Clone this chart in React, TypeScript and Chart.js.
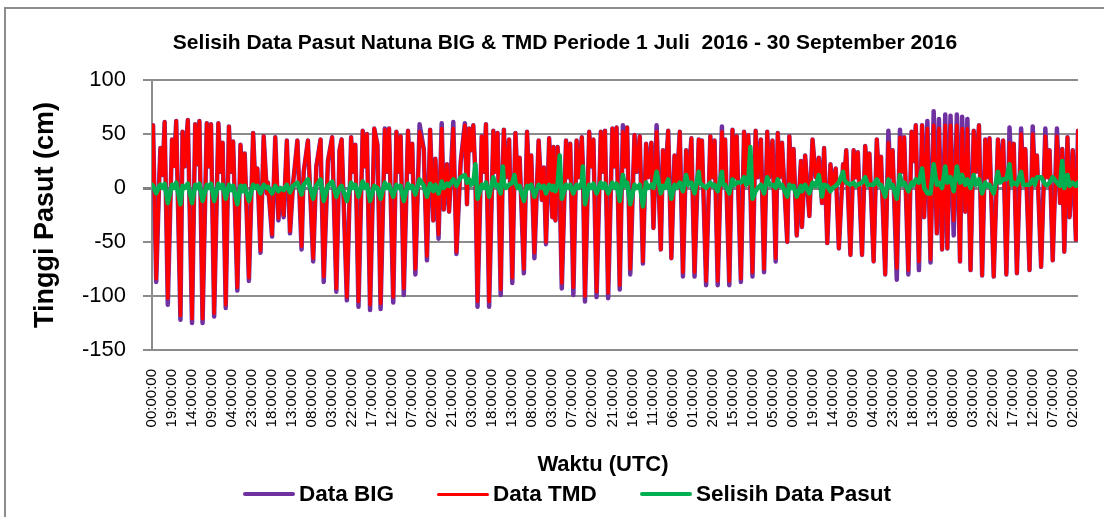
import React, { useEffect, useRef } from "react";
import { Chart, registerables } from "chart.js";

Chart.register(...registerables);

const FONT = "'Liberation Sans', Arial, Helvetica, sans-serif";

const chartTitle = "Selisih Data Pasut Natuna BIG & TMD Periode 1 Juli  2016 - 30 September 2016";
const yAxisTitle = "Tinggi Pasut (cm)";
const xAxisTitle = "Waktu (UTC)";
const seriesNames = ["Data BIG", "Data TMD", "Selisih Data Pasut"];
const seriesColors = ["#7030A0", "#FF0000", "#00B050"];

const xTickLabels = [
  "00:00:00", "19:00:00", "14:00:00", "09:00:00", "04:00:00", "23:00:00", "18:00:00", "13:00:00",
  "08:00:00", "03:00:00", "22:00:00", "17:00:00", "12:00:00", "07:00:00", "02:00:00", "21:00:00",
  "03:00:00", "18:00:00", "13:00:00", "08:00:00", "03:00:00", "07:00:00", "02:00:00", "21:00:00",
  "16:00:00", "11:00:00", "06:00:00", "01:00:00", "20:00:00", "15:00:00", "10:00:00", "05:00:00",
  "00:00:00", "19:00:00", "14:00:00", "09:00:00", "04:00:00", "23:00:00", "18:00:00", "13:00:00",
  "08:00:00", "03:00:00", "22:00:00", "17:00:00", "12:00:00", "07:00:00", "02:00:00",
];
const xTickStep = 19;
const hourCount = 880;

const yMin = -150;
const yMax = 100;
const yStep = 50;

// hour index (row of the hourly series) of each turning point
const hours = [
  0, 1, 4, 7, 8, 10, 12, 15, 19, 21,
  23, 27, 29, 31, 34, 38, 41, 43, 45, 48,
  52, 54, 56, 59, 63, 65, 67, 70, 73, 75,
  77, 81, 84, 86, 88, 92, 96, 98, 100, 103,
  106, 109, 110, 114, 117, 120, 122, 125, 128, 131,
  134, 138, 142, 144, 148, 153, 156, 160, 163, 167,
  171, 175, 178, 180, 185, 189, 191, 193, 196, 200,
  202, 204, 207, 211, 214, 217, 221, 223, 225, 229,
  232, 234, 236, 239, 243, 245, 247, 250, 254, 258,
  259, 261, 264, 267, 269, 272, 275, 277, 280, 282,
  286, 289, 293, 297, 299, 301, 303, 305, 307, 309,
  313, 315, 317, 320, 324, 326, 328, 331, 333, 334,
  336, 339, 342, 344, 345, 347, 349, 353, 356, 358,
  360, 363, 367, 370, 372, 374, 377, 380, 381, 383,
  385, 387, 389, 393, 395, 397, 400, 403, 405, 408,
  409, 411, 415, 417, 419, 422, 426, 428, 430, 433,
  437, 439, 441, 444, 447, 449, 451, 454, 458, 460,
  463, 466, 469, 471, 474, 476, 479, 483, 485, 487,
  490, 493, 496, 498, 501, 504, 507, 509, 512, 515,
  519, 520, 522, 526, 530, 532, 534, 537, 541, 542,
  544, 548, 551, 553, 555, 559, 562, 564, 566, 568,
  570, 573, 575, 578, 581, 584, 586, 589, 592, 594,
  596, 598, 603, 605, 607, 609, 612, 616, 617, 620,
  624, 627, 630, 633, 636, 638, 641, 644, 646, 649,
  652, 656, 657, 659, 663, 666, 668, 670, 674, 677,
  679, 681, 685, 688, 690, 692, 696, 699, 701, 703,
  707, 710, 712, 714, 718, 721, 723, 725, 728, 731,
  733, 736, 739, 742, 745, 747, 750, 753, 755, 758,
  761, 764, 767, 769, 772, 774, 777, 780, 782, 785,
  788, 791, 793, 795, 799, 803, 805, 808, 811, 814,
  816, 818, 821, 825, 827, 829, 833, 836, 838, 840,
  844, 848, 850, 852, 855, 859, 862, 864, 866, 869,
  871, 874, 877, 879,
];

const dataBIG = [
  5, 58, -87, 12, 37, 12, 61, -108, 45, 22,
  62, -122, 52, 20, 63, -125, 59, 22, 62, -125,
  60, 20, 59, -119, 60, 15, 42, -111, 57, 15,
  43, -95, 40, 5, 32, -86, 51, 5, 18, -60,
  48, -5, 5, -45, 47, -30, 0, -27, 44, -42,
  5, 44, -57, 15, 44, -68, 20, 45, -87, 25,
  47, -96, 35, 45, -104, 47, 15, 40, -110, 53,
  20, 50, -113, 55, 40, -112, 55, 15, 55, -106,
  52, 15, 48, -99, 53, 15, 41, -80, 59, 36,
  0, -67, 54, -30, 27, -47, 60, -20, 22, -22,
  61, -61, 24, 60, -15, 55, 35, 58, 10, -110,
  48, 15, 59, -110, 53, 15, 51, -99, 20, 54,
  10, 45, -88, 10, 51, 5, 28, -79, 52, 5,
  30, -65, 44, -11, 19, -52, 46, -27, 38, -30,
  38, 0, -93, 44, 10, 41, -99, 44, 10, 47,
  20, -105, 52, 20, 45, -101, 52, 15, 53, -102,
  55, 20, 56, -94, 58, 20, 56, -80, 49, 15,
  48, -70, 41, 10, 42, -37, 58, -57, 35, 5,
  53, -65, 30, 0, 52, -82, 35, 5, 46, -82,
  45, 10, 44, -90, 48, 10, 44, -90, 57, 10,
  45, -90, 54, 10, 48, -87, 52, 10, 49, 0,
  -82, 53, 10, 45, -78, 52, 10, 44, -68, 51,
  10, 42, -50, 48, 5, 36, -44, 25, -36, 30,
  -26, 45, 10, 28, -14, 37, -51, 22, 0, 18,
  -56, 22, 5, 35, -62, 35, 10, 33, -62, 39,
  10, 32, -68, 45, 10, 29, -80, 53, 10, 35,
  -85, 54, 15, 47, -80, 52, 25, 58, -76, 58,
  -27, 62, -69, 71, -42, 64, -57, 68, -56, 67,
  -44, 68, -68, 66, -22, 64, -76, 53, 15, 58,
  -81, 45, 10, 46, -82, 45, 10, 44, -80, 56,
  10, 41, -79, 55, 10, 36, -76, 57, 10, 30,
  -73, 55, 10, 35, -67, 55, -14, 36, -59, 47,
  -27, 35, -48, 53,
];

const dataTMD = [
  5, 58, -84, 10, 37, 12, 61, -102, 45, 20,
  62, -118, 52, 20, 63, -121, 59, 22, 62, -121,
  60, 20, 59, -116, 60, 15, 42, -108, 57, 15,
  43, -92, 40, 5, 32, -83, 51, 5, 18, -58,
  48, -5, 5, -43, 47, -28, 0, -25, 44, -40,
  5, 44, -54, 15, 44, -65, 20, 45, -82, 25,
  47, -93, 35, 45, -101, 47, 15, 40, -105, 53,
  20, 50, -108, 55, 40, -107, 54, 15, 55, -101,
  52, 15, 48, -93, 53, 15, 41, -75, 52, 36,
  0, -63, 54, -30, 27, -43, 55, -20, 22, -22,
  55, -59, 24, 58, -15, 55, 35, 58, 10, -105,
  48, 15, 59, -105, 53, 15, 51, -94, 20, 54,
  10, 45, -83, 10, 51, 5, 28, -75, 52, 5,
  30, -60, 44, -11, 19, -50, 46, -27, 38, -30,
  38, 0, -88, 44, 10, 41, -92, 44, 10, 47,
  20, -100, 52, 20, 45, -96, 52, 15, 53, -97,
  55, 20, 56, -90, 52, 20, 56, -75, 49, 15,
  48, -68, 41, 10, 42, -37, 52, -57, 35, 5,
  53, -65, 30, 0, 52, -78, 35, 5, 46, -78,
  45, 10, 44, -86, 48, 10, 44, -86, 52, 10,
  45, -86, 54, 10, 48, -84, 52, 10, 49, 0,
  -78, 53, 10, 45, -75, 52, 10, 44, -65, 51,
  10, 42, -50, 48, 5, 36, -44, 25, -36, 30,
  -26, 45, 10, 28, -14, 37, -51, 22, 0, 18,
  -56, 22, 5, 35, -62, 35, 10, 33, -62, 39,
  10, 32, -68, 45, 10, 29, -80, 42, 10, 35,
  -74, 47, 15, 47, -76, 52, 25, 58, -68, 58,
  -27, 55, -66, 58, -42, 55, -57, 58, -56, 58,
  -30, 58, -68, 55, -22, 55, -76, 53, 15, 58,
  -81, 45, 10, 46, -82, 45, 10, 44, -80, 42,
  10, 41, -79, 50, 10, 36, -76, 50, 10, 30,
  -73, 48, 10, 35, -67, 48, -14, 36, -59, 47,
  -27, 35, -48, 53,
];

const selisih = [
  3, 2, -5, 2, 3, 0, 4, -14, 3, 0,
  5, -15, 2, 0, 4, -14, 3, 0, 4, -12,
  3, 0, 4, -12, 4, 0, 3, -10, 3, -2,
  2, -15, 2, -3, 2, -12, 3, 0, 2, -5,
  3, 0, 1, -5, 2, -3, 0, -2, 3, -4,
  2, 5, -6, 3, 8, -10, 2, 8, -12, 2,
  6, -8, 0, 2, -12, 5, 0, 3, -8, 6,
  0, 3, -12, 2, 0, -10, 5, 0, 3, -8,
  3, 0, 2, -12, 4, 0, 2, -6, 8, 2,
  -2, -8, 4, -3, 3, -5, 6, 0, 4, 2,
  8, 2, 10, 12, 5, 8, 3, 5, 22, -10,
  3, 0, 5, -8, 10, 2, 3, -5, 20, 5,
  0, 3, 5, 12, 5, 0, 2, -12, 2, 0,
  3, -8, 3, 0, 2, -5, 3, -2, 2, -3,
  3, 30, -10, 3, 0, 3, -5, 3, 0, 5,
  20, -15, 3, 0, 4, -5, 5, 0, 4, -5,
  5, 0, 4, -12, 12, 2, 5, -15, 3, 0,
  3, -17, 5, 0, 3, 0, 15, -5, 2, 0,
  8, -10, 3, 0, 5, -3, 12, 3, 5, -5,
  15, 5, 3, 0, 5, 2, 3, -3, 15, 3,
  3, -5, 8, 3, 5, 5, 10, 3, 5, 38,
  -10, -3, 0, 3, -5, 10, 3, 3, 0, 8,
  2, 3, -8, 3, 0, 2, -8, 2, -3, 3,
  -5, 5, 2, 12, -8, 3, 2, -3, 0, 2,
  5, 15, 8, 5, 3, 5, 2, 3, 5, 10,
  3, 3, 3, 8, 3, 3, -8, 8, 2, 3,
  -10, 12, 3, 5, -3, 5, 3, 8, 5, 18,
  0, -5, -5, 22, 3, 5, 0, 20, 5, 10,
  -3, 20, 5, 12, 3, 8, 0, 12, 3, 8,
  -5, 5, 2, 3, -5, 15, 5, 8, 8, 22,
  3, 5, 3, 15, 3, 3, 3, 8, 3, 10,
  10, 3, 3, 5, 10, 5, 2, 25, 0, 12,
  2, 5, 2, 5,
];

const seriesValues = [dataBIG, dataTMD, selisih];
const seriesWidths = [4.5, 3.5, 4.5];
const legendLefts = [243, 437, 640];

export default function App() {
  const canvasRef = useRef<HTMLCanvasElement | null>(null);

  useEffect(() => {
    const canvas = canvasRef.current;
    if (!canvas) return;
    const datasets = seriesNames.map((name, i) => ({
      label: name,
      data: seriesValues[i].map((v, k) => ({ x: hours[k], y: v })),
      borderColor: seriesColors[i],
      backgroundColor: seriesColors[i],
      borderWidth: seriesWidths[i],
      pointRadius: 0,
      pointHoverRadius: 0,
      tension: 0,
      fill: false,
      borderJoinStyle: "round",
      borderCapStyle: "round",
      order: 3 - i,
    }));
    const config: any = {
      type: "line",
      data: { datasets },
      options: {
        animation: false,
        responsive: false,
        events: [],
        layout: { padding: { top: 80, left: 8, right: 26, bottom: 40 } },
        plugins: {
          legend: { display: false },
          title: { display: false },
          tooltip: { enabled: false },
        },
        scales: {
          x: {
            type: "linear",
            min: 0,
            max: hourCount - 1,
            afterBuildTicks: (s: any) => {
              s.ticks = xTickLabels.map((_, k) => ({ value: k * xTickStep }));
            },
            afterFit: (s: any) => {
              s.height = 127;
              s.paddingLeft = 0;
              s.paddingRight = 0;
            },
            ticks: {
              autoSkip: false,
              minRotation: 90,
              maxRotation: 90,
              padding: 19,
              color: "#000",
              font: { family: FONT, size: 15 },
              callback: (_v: any, idx: number) => xTickLabels[idx],
            },
            grid: { display: false, drawTicks: false },
            border: { display: false },
            title: { display: false },
          },
          y: {
            min: yMin,
            max: yMax,
            afterFit: (s: any) => {
              s.width = 144;
            },
            ticks: {
              stepSize: yStep,
              padding: 17,
              color: "#000",
              font: { family: FONT, size: 22 },
            },
            grid: {
              color: (c: any) => (c.tick && c.tick.value === 0 ? "#7f7f7f" : "#8c8c8c"),
              lineWidth: (c: any) => (c.tick && c.tick.value === 0 ? 3 : 2),
              tickLength: 9,
            },
            border: { color: "#8c8c8c", width: 2 },
            title: {
              display: true,
              text: yAxisTitle,
              color: "#000",
              font: { family: FONT, size: 27, weight: "bold" },
              padding: { top: 21, bottom: 0 },
            },
          },
        },
      },
    };
    const chart = new Chart(canvas, config);
    return () => chart.destroy();
  }, []);

  return (
    <div
      style={{
        position: "fixed",
        left: 0,
        top: 0,
        width: 1104,
        height: 517,
        overflow: "hidden",
        background: "#fff",
      }}
    >
      <canvas
        ref={canvasRef}
        width={1104}
        height={517}
        style={{ position: "absolute", left: 0, top: 0, width: 1104, height: 517 }}
      />
      <div
        style={{
          position: "absolute",
          left: 4,
          top: 7,
          width: 1200,
          height: 700,
          border: "2px solid #8c8c8c",
          pointerEvents: "none",
        }}
      />
      <div
        style={{
          position: "absolute",
          left: 0,
          top: 30,
          width: 1130,
          textAlign: "center",
          fontFamily: FONT,
          fontWeight: "bold",
          fontSize: 21,
          lineHeight: "24px",
          whiteSpace: "pre",
          color: "#000",
        }}
      >
        {chartTitle}
      </div>
      <div
        style={{
          position: "absolute",
          left: 403,
          top: 451,
          width: 400,
          textAlign: "center",
          fontFamily: FONT,
          fontWeight: "bold",
          fontSize: 22,
          lineHeight: "26px",
          whiteSpace: "pre",
          color: "#000",
        }}
      >
        {xAxisTitle}
      </div>
      {seriesNames.map((name, i) => (
        <div
          key={name}
          style={{
            position: "absolute",
            left: legendLefts[i],
            top: 481,
            height: 26,
            display: "flex",
            alignItems: "center",
            whiteSpace: "nowrap",
          }}
        >
          <div style={{ width: 52, height: i === 1 ? 3 : 4, background: seriesColors[i], borderRadius: 2 }} />
          <span
            style={{
              marginLeft: 4,
              fontFamily: FONT,
              fontWeight: "bold",
              fontSize: 22.5,
              lineHeight: "26px",
              color: "#000",
            }}
          >
            {name}
          </span>
        </div>
      ))}
    </div>
  );
}
